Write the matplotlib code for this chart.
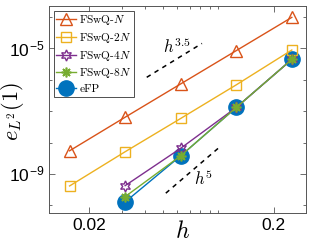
import numpy as np
import matplotlib
matplotlib.use("Agg")
import matplotlib.pyplot as plt
from matplotlib.ticker import FixedLocator, NullFormatter, FuncFormatter

plt.rcParams['mathtext.fontset'] = 'cm'
plt.rcParams['font.family'] = ['Liberation Sans', 'DejaVu Sans']

h = [1/64, 1/32, 1/16, 1/8, 1/4]
h4 = [1/32, 1/16, 1/8, 1/4]
err_N = [10**-8.26, 10**-7.19, 10**-6.13, 10**-5.07, 10**-4.01]
err_2N = [10**-9.38, 10**-8.29, 10**-7.23, 10**-6.16, 10**-5.05]
err_4N = [10**-9.37, 10**-8.18, 10**-6.88, 10**-5.35]
err_8N = [10**-9.72, 10**-8.42, 10**-6.88, 10**-5.35]
err_eFP = [10**-9.89, 10**-8.42, 10**-6.88, 10**-5.35]

ref35_x = [0.0409, 0.0815]
ref35_y = [10**-5.92, 10**-4.84]
ref5_x = [0.0519, 0.1007]
ref5_y = [10**-9.61, 10**-8.16]

c_N = '#D95319'
c_2N = '#EDB120'
c_4N = '#7E2F8E'
c_8N = '#77AC30'
c_eFP = '#0072BD'

fig = plt.figure(figsize=(3.23, 2.42), dpi=100)
ax = fig.add_axes([0.152, 0.12, 0.795, 0.855])

ax.plot(h, err_N, color=c_N, lw=1, marker='^', ms=8, mfc='none', mec=c_N, mew=1, label='FSwQ-$N$', zorder=3)
ax.plot(h, err_2N, color=c_2N, lw=1, marker='s', ms=6.5, mfc='none', mec=c_2N, mew=1, label='FSwQ-$2N$', zorder=3)
ax.plot(h4, err_4N, color=c_4N, lw=1, marker=(6, 1, 0), ms=8, mfc='none', mec=c_4N, mew=1, label='FSwQ-$4N$', zorder=4)
ax.plot(h4, err_eFP, color=c_eFP, lw=1, marker='o', ms=11, mfc=c_eFP, mec=c_eFP, label='eFP', zorder=2)
ax.plot(h4, err_8N, color=c_8N, lw=1, marker=(8, 2, 0), ms=7, mfc='none', mec=c_8N, mew=1.2, label='FSwQ-$8N$', zorder=5)

ax.plot(ref35_x, ref35_y, color='k', lw=1.1, ls=(0, (3, 3)))
ax.plot(ref5_x, ref5_y, color='k', lw=1.1, ls=(0, (3, 3)))
ax.text(0.060, 10**-4.92, '$h^{3.5}$', fontsize=12, ha='center', va='center')
ax.text(0.0835, 10**-9.15, '$h^{5}$', fontsize=12, ha='center', va='center')

ax.set_xscale('log')
ax.set_yscale('log')
ax.set_xlim(0.0121, 0.298)
ax.set_ylim(10**-10.24, 10**-3.65)

ax.xaxis.set_major_locator(FixedLocator([0.02, 0.2]))
ax.xaxis.set_major_formatter(FuncFormatter(lambda v, p: '%g' % v))
ax.xaxis.set_minor_locator(FixedLocator([0.03, 0.04, 0.05, 0.06, 0.07, 0.08, 0.09, 0.1, 0.3]))
ax.xaxis.set_minor_formatter(NullFormatter())
ax.yaxis.set_major_locator(FixedLocator([1e-9, 1e-5]))
ax.yaxis.set_major_formatter(FuncFormatter(lambda v, p: r'10$^{\mathregular{%d}}$' % round(np.log10(v))))
ax.yaxis.set_minor_locator(FixedLocator([1e-10, 1e-8, 1e-7, 1e-6, 1e-4]))
ax.yaxis.set_minor_formatter(NullFormatter())

ax.tick_params(which='both', direction='in', top=True, right=True, color='#555555', labelsize=12.5)
ax.tick_params(which='major', length=4, width=0.6)
ax.tick_params(which='minor', length=2.5, width=0.6)
for s in ax.spines.values():
    s.set_color('#555555')
    s.set_linewidth(0.7)

ax.set_xlabel('$h$', fontsize=17)
ax.xaxis.set_label_coords(0.52, -0.04)
ax.set_ylabel('$e_{L^2}(1)$', fontsize=16)
ax.yaxis.set_label_coords(-0.09, 0.49)

handles, labels = ax.get_legend_handles_labels()
order = [labels.index(l) for l in ['FSwQ-$N$', 'FSwQ-$2N$', 'FSwQ-$4N$', 'FSwQ-$8N$', 'eFP']]
leg = ax.legend([handles[i] for i in order], [labels[i] for i in order], loc='upper left',
                prop={'family': ['cmr10', 'DejaVu Serif'], 'size': 8.2}, fancybox=False, framealpha=1,
                edgecolor='#333333', handlelength=1.7, handletextpad=0.3, borderpad=0.25,
                labelspacing=0.32, borderaxespad=0.4)
leg.get_frame().set_linewidth(0.6)

fig.savefig('out.png', dpi=100)
